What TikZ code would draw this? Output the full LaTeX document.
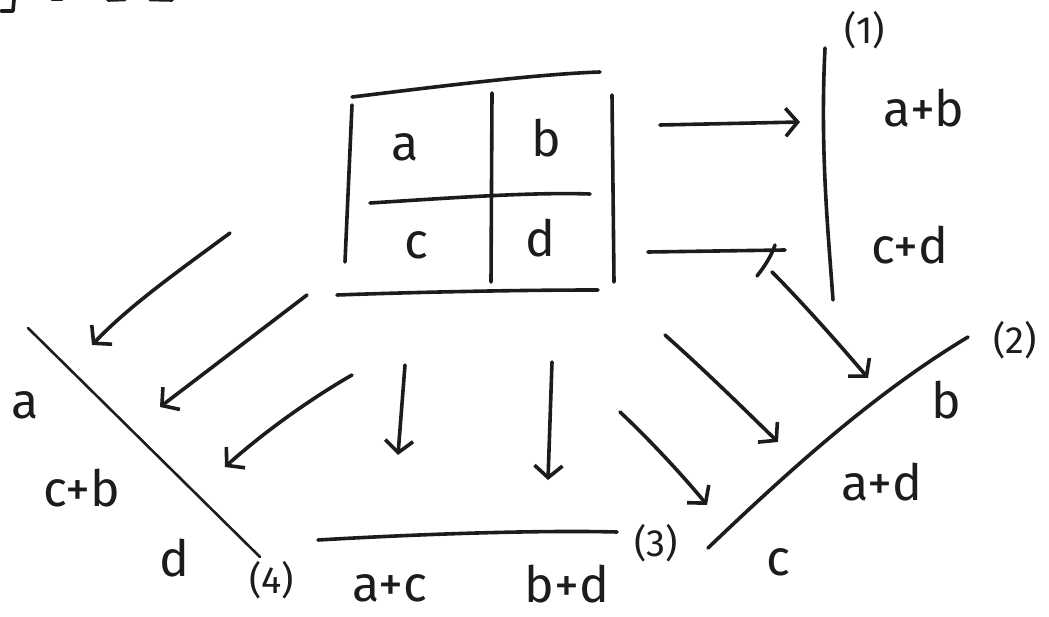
\documentclass[tikz,border=0pt]{standalone}
\usepackage{fontspec}
\setmainfont{Fira Sans}
\usetikzlibrary{arrows.meta}
\definecolor{ink}{HTML}{1C1C1C}
\begin{document}
\begin{tikzpicture}[x=1pt,y=-1pt, line cap=round, line join=round,
  pen/.style={line width=3.6pt, draw=ink},
  thin/.style={line width=2.6pt, draw=ink},
  arr/.style={pen, -{Straight Barb[length=12pt,width=28pt]}},
  lbl/.style={font=\fontsize{50}{50}\selectfont, text=ink, inner sep=0pt},
  tag/.style={font=\fontsize{38}{38}\selectfont, text=ink, inner sep=0pt}]
\useasboundingbox (0,0) rectangle (1049,617);

% cropped fragments at the top edge
\draw[pen] (1,11) -- (13,11) -- (14,0);
\draw[pen] (52,-0.5) -- (62,-0.5);
\draw[pen] (108,0) -- (125,-0.5);
\draw[pen] (150,-0.5) -- (172,0);

% ---------- matrix ----------
\draw[pen] (352,97) .. controls (450,85) and (540,74) .. (600,72);
\draw[pen] (352,105) -- (345,262);
\draw[pen] (492,93) -- (491,282);
\draw[pen] (612,95) -- (614,282);
\draw[pen] (370,203) .. controls (450,198) and (530,192) .. (590,194);
\draw[pen] (337,295) .. controls (420,292) and (520,290) .. (598,290);
\node[lbl] (ma) at (405,147) {a};
\node[lbl] (mb) at (546,138) {b};
\node[lbl] (mc) at (416,245) {c};
\node[lbl] (md) at (540,238) {d};

% ---------- (1) ----------
\draw[pen] (825,48) .. controls (820,150) and (828,230) .. (833,300);
\node[tag] (t1) at (865,30) {(1)};
\node[lbl] (r1a) at (924,108) {a+b};
\node[lbl] (r1b) at (910,245) {c+d};

% ---------- (2) ----------
\draw[pen] (968,337) .. controls (880,390) and (800,460) .. (708,548);
\node[tag] (t2) at (1015,340) {(2)};
\node[lbl] (r2a) at (946,400) {b};
\node[lbl] (r2b) at (882,482) {a+d};
\node[lbl] (r2c) at (778,562) {c};

% ---------- (3) ----------
\draw[pen] (318,540) .. controls (420,534) and (540,530) .. (617,532);
\node[tag] (t3) at (656,543) {(3)};
\node[lbl] (r3a) at (390,588) {a+c};
\node[lbl] (r3b) at (567,584) {b+d};

% ---------- (4) ----------
\draw[thin] (28,328) -- (260,557);
\node[tag] (t4) at (272,580) {(4)};
\node[lbl] (r4a) at (25,405) {a};
\node[lbl] (r4b) at (82,488) {c+b};
\node[lbl] (r4c) at (174,558) {d};

% ---------- arrow end points ----------
\coordinate (s1) at (660,125); \coordinate (e1) at (800,122);
\coordinate (s2) at (648,252); \coordinate (e2) at (785,250);
\coordinate (s3) at (772,272); \coordinate (e3) at (868,378);
\coordinate (s4) at (665,335); \coordinate (e4) at (778,442);
\coordinate (s5) at (620,412); \coordinate (e5) at (707,505);
\coordinate (s6) at (405,365); \coordinate (e6) at (398,455);
\coordinate (s7) at (552,362); \coordinate (e7) at (548,480);
\coordinate (s8) at (352,375); \coordinate (e8) at (225,467);
\coordinate (s9) at (307,295); \coordinate (e9) at (160,407);
\coordinate (s10) at (230,233); \coordinate (e10) at (92,345);

\draw[arr] (s1) -- (e1);
\draw[pen] (s2) -- (e2);
\draw[pen] (775,245) .. controls (770,260) and (760,272) .. (757,276);
\draw[arr] (s3) .. controls (800,300) and (840,345) .. (e3);
\draw[arr] (s4) .. controls (710,375) and (750,415) .. (e4);
\draw[arr] (s5) .. controls (650,440) and (685,478) .. (e5);
\draw[arr] (s6) -- (e6);
\draw[arr] (s7) -- (e7);
\draw[arr] (s8) .. controls (300,405) and (255,440) .. (e8);
\draw[arr] (s9) -- (e9);
\draw[arr] (s10) .. controls (180,270) and (130,305) .. (e10);
\end{tikzpicture}
\end{document}
